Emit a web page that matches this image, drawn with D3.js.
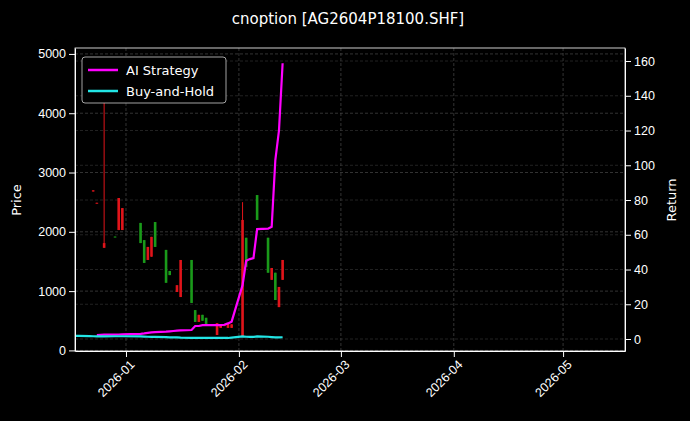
<!DOCTYPE html><html><head><meta charset="utf-8">
<script src="https://cdn.jsdelivr.net/npm/d3@7"></script>
<style>body{margin:0;background:#000}svg{font-family:"DejaVu Sans",sans-serif}</style></head><body>
<svg id="c" width="690" height="421"></svg>
<script>
const dates=["2025-12-18","2025-12-19","2025-12-22","2025-12-23","2025-12-24","2025-12-25","2025-12-26","2025-12-29","2025-12-30","2025-12-31","2026-01-05","2026-01-06","2026-01-07","2026-01-08","2026-01-09","2026-01-12","2026-01-13","2026-01-14","2026-01-15","2026-01-16","2026-01-19","2026-01-20","2026-01-21","2026-01-22","2026-01-23","2026-01-26","2026-01-27","2026-01-28","2026-01-29","2026-01-30","2026-02-02","2026-02-03","2026-02-04","2026-02-05","2026-02-06","2026-02-09","2026-02-10","2026-02-11","2026-02-12","2026-02-13"];
const open =[null,null,null,2700,2490,null,1810,1920,2570,2400,2150,1860,1745,1915,2165,1695,1340,null,1100,1525,1525,680,600,600,550,460,430,440,460,440,2200,1900,null,null,2620,1900,1390,1310,1070,1525];
const close=[null,null,null,2680,2480,null,1730,1910,2030,2030,1810,1475,1525,1580,1745,1140,1270,null,985,900,800,480,480,500,430,260,380,410,380,380,230,1410,null,null,2200,1310,1190,850,730,1190];
const high =[null,null,null,2700,2490,null,4225,1920,2570,2400,2150,1860,1745,1915,2165,1695,1340,null,1100,1525,1525,680,600,600,550,460,430,440,460,440,2500,1900,null,null,2620,1900,1390,1310,1070,1525];
const low  =[null,null,null,2680,2480,null,1730,1910,2030,2030,1810,1475,1525,1580,1745,1140,1270,null,985,900,800,480,480,500,430,260,380,410,380,380,230,1410,null,null,2200,1310,1190,850,730,1190];
const upColor=[0,0,0,1,1,0,1,0,1,1,0,0,1,1,0,0,0,0,1,1,0,0,1,0,0,1,1,1,1,1,1,0,0,0,0,0,1,0,1,1];
const strategy=[null,null,null,null,2.3,2.4,2.5,2.5,2.6,2.7,3.0,3.2,3.5,3.8,4.0,4.2,4.4,4.6,4.8,5.0,5.2,7.5,7.5,8.0,8.0,8.0,8.0,8.2,9.0,10,31,45,46,46.6,63.3,63.5,64.6,103,120,158.7];
const buyhold=[1.8,1.8,1.7,1.6,1.5,1.5,1.5,1.6,1.6,1.6,1.5,1.4,1.3,1.2,1.2,1.1,1.0,1.0,0.9,0.8,0.7,0.7,0.7,0.6,0.6,0.6,0.6,0.6,0.6,0.8,1.5,1.3,1.2,1.2,1.5,1.3,1.1,0.9,0.9,1.0];
const yTicks=[0,1000,2000,3000,4000,5000];
const rTicks=[0,20,40,60,80,100,120,140,160];
const xTicks=["2026-01-01","2026-02-01","2026-03-01","2026-04-01","2026-05-01"];

const P=d3.timeParse("%Y-%m-%d");
const svg=d3.select("#c");
const L=75,R=625,T=48,B=351;
const x=d3.scaleTime().domain([P("2025-12-18"),P("2026-05-18")]).range([L,R]);
const y=d3.scaleLinear().domain([-10,5100]).range([B,T]);
const yr=d3.scaleLinear().domain([-6.9,167.5]).range([B,T]);
svg.append("text").attr("x",348).attr("y",24).attr("text-anchor","middle").attr("fill","#fff").attr("font-size",15).text("cnoption [AG2604P18100.SHF]");
const g=svg.append("g");
xTicks.forEach(t=>g.append("line").attr("x1",x(P(t))).attr("x2",x(P(t))).attr("y1",T).attr("y2",B).attr("stroke","#555").attr("stroke-width",0.6).attr("stroke-dasharray","3,2"));
yTicks.forEach(t=>g.append("line").attr("x1",L).attr("x2",R).attr("y1",y(t)).attr("y2",y(t)).attr("stroke","#555").attr("stroke-width",0.6).attr("stroke-dasharray","3,2"));
rTicks.forEach(t=>g.append("line").attr("x1",L).attr("x2",R).attr("y1",yr(t)).attr("y2",yr(t)).attr("stroke","#444").attr("stroke-width",0.5).attr("stroke-dasharray","3,2"));
dates.forEach((d,i)=>{ if(open[i]==null)return;
 const cx=x(P(d)),col=upColor[i]?"#e0141a":"#1a9a1a";
 g.append("line").attr("x1",cx).attr("x2",cx).attr("y1",y(high[i])).attr("y2",y(low[i])).attr("stroke",col).attr("stroke-width",1);
 const t=y(Math.max(open[i],close[i])),b=y(Math.min(open[i],close[i]));
 g.append("rect").attr("x",cx-1.3).attr("width",2.6).attr("y",t).attr("height",Math.max(1,b-t)).attr("fill",col);
});
const line=d3.line().defined(d=>d[1]!=null).x(d=>x(P(d[0]))).y(d=>yr(d[1]));
g.append("path").datum(dates.map((d,i)=>[d,strategy[i]])).attr("d",line).attr("fill","none").attr("stroke","#ff00ff").attr("stroke-width",2.2);
g.append("path").datum(dates.map((d,i)=>[d,buyhold[i]])).attr("d",line).attr("fill","none").attr("stroke","#22e5e5").attr("stroke-width",2.2);
svg.append("rect").attr("x",L).attr("y",T).attr("width",R-L).attr("height",B-T).attr("fill","none").attr("stroke","#fff").attr("stroke-width",0.8);
const ax=svg.append("g").attr("transform",`translate(0,${B})`).call(d3.axisBottom(x).tickValues(xTicks.map(P)).tickFormat(d3.timeFormat("%Y-%m")).tickSizeOuter(0));
ax.selectAll("text").attr("transform","rotate(-45)").attr("text-anchor","end").attr("dx","-0.3em").attr("dy","0.6em");
svg.append("g").attr("transform",`translate(${L},0)`).call(d3.axisLeft(y).tickValues(yTicks).tickFormat(d3.format("d")).tickSizeOuter(0));
svg.append("g").attr("transform",`translate(${R},0)`).call(d3.axisRight(yr).tickValues(rTicks).tickFormat(d3.format("d")).tickSizeOuter(0));
svg.selectAll(".tick text").attr("fill","#fff").attr("font-size",12.5);
svg.selectAll(".tick line").attr("stroke","#fff");
svg.selectAll(".domain").attr("stroke","#fff");
svg.append("text").attr("transform","translate(21,200) rotate(-90)").attr("text-anchor","middle").attr("fill","#fff").attr("font-size",13).text("Price");
svg.append("text").attr("transform","translate(676,200) rotate(-90)").attr("text-anchor","middle").attr("fill","#fff").attr("font-size",13).text("Return");
const lg=svg.append("g").attr("transform","translate(82,57)");
lg.append("rect").attr("width",144).attr("height",46).attr("rx",3).attr("fill","#000").attr("stroke","#ccc").attr("stroke-width",0.8);
[["AI Strategy","#ff00ff"],["Buy-and-Hold","#22e5e5"]].forEach((e,i)=>{
 lg.append("line").attr("x1",6).attr("x2",36).attr("y1",13+i*21).attr("y2",13+i*21).attr("stroke",e[1]).attr("stroke-width",2.5);
 lg.append("text").attr("x",44).attr("y",18+i*21).attr("fill","#fff").attr("font-size",13).text(e[0]);
});
</script></body></html>
